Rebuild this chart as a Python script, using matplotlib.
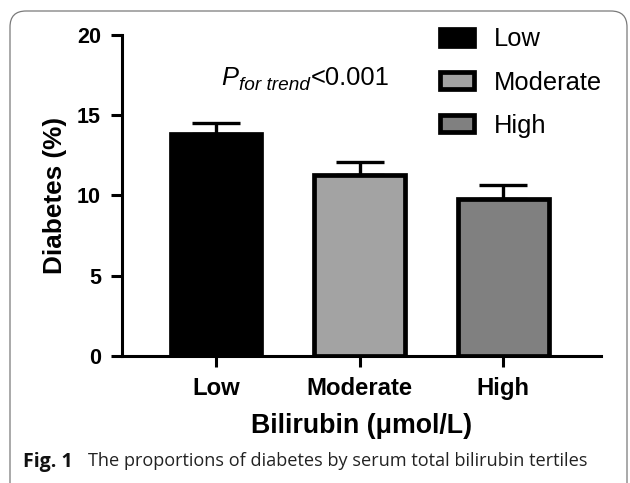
import matplotlib
matplotlib.use('Agg')
import matplotlib.pyplot as plt
from matplotlib.patches import FancyBboxPatch
from matplotlib.transforms import IdentityTransform

# ---- data ----
categories = ['Low', 'Moderate', 'High']
values = [13.8, 11.25, 9.8]
errors = [0.7, 0.85, 0.85]
colors = ['#000000', '#a3a3a3', '#808080']
yticks = [0, 5, 10, 15, 20]
ylabel = 'Diabetes (%)'
xlabel = 'Bilirubin (μmol/L)'
caption_bold = 'Fig. 1'
caption_text = 'The proportions of diabetes by serum total bilirubin tertiles'

plt.rcParams['font.family'] = ['Liberation Sans', 'DejaVu Sans']

W, H = 630, 483
fig = plt.figure(figsize=(6.3, 4.83), dpi=100)


def fx(px):
    return px / W


def fy(py):
    return 1 - py / H


# outer rounded frame
frame = FancyBboxPatch((10, -20), 617, 483 - 11 + 20,
                       boxstyle='round,pad=0,rounding_size=16',
                       transform=IdentityTransform(), fill=False,
                       edgecolor='#7a7a7a', linewidth=0.9)
fig.patches.append(frame)

ax = fig.add_axes([fx(121.7), fy(355.7), fx(601) - fx(121.7), fy(35) - fy(355.7)])
x = list(range(len(categories)))
bars = ax.bar(x, values, width=0.63, color=colors, edgecolor='black',
              linewidth=3.4, zorder=3)
ax.errorbar(x, values, yerr=[[0] * len(values), errors], fmt='none',
            ecolor='black', elinewidth=2.4, capsize=17.3, capthick=2.4, zorder=2)

ax.set_xlim(-0.655, 2.68)
ax.set_ylim(0, 20)
ax.set_yticks(yticks)
ax.set_xticks(x)
ax.set_xticklabels(categories)
for s in ['top', 'right']:
    ax.spines[s].set_visible(False)
for s in ['left', 'bottom']:
    ax.spines[s].set_linewidth(2.2)
ax.tick_params(axis='both', width=2.2, length=8)
ax.tick_params(axis='y', labelsize=15.5, pad=7)
ax.tick_params(axis='x', labelsize=17.2, pad=7.6)
for lab in ax.get_xticklabels() + ax.get_yticklabels():
    lab.set_fontweight('bold')

ax.set_ylabel(ylabel, fontsize=18.8, fontweight='bold')
ax.yaxis.set_label_coords(-0.114, 0.5)
ax.set_xlabel(xlabel, fontsize=19.3, fontweight='bold', va='top')
ax.xaxis.set_label_coords(0.5, -0.18)

# legend
fig.legend(handles=list(bars.patches), labels=categories, loc='upper left',
           bbox_to_anchor=(fx(440), fy(27.5)), bbox_transform=fig.transFigure,
           frameon=False, borderpad=0, borderaxespad=0, handlelength=1.33,
           handleheight=0.66, handletextpad=0.77, labelspacing=0.75,
           fontsize=18.4)

# P for trend annotation
ptxt = fig.text(fx(221.7), fy(85), 'P', fontsize=18.4, style='italic',
                ha='left', va='baseline')
sub = ax.annotate('for trend', xy=(1, 0), xycoords=ptxt, xytext=(0.5, 0),
                  textcoords='offset points', fontsize=13.7, style='italic',
                  ha='left', va='baseline')
ax.annotate('<0.001', xy=(1, 0), xycoords=(sub, ptxt), xytext=(0.5, 0),
            textcoords='offset points', fontsize=18.4, ha='left', va='bottom')

# caption
fig.text(fx(23), fy(466.5), caption_bold, fontsize=14, fontweight='bold',
         family=['Open Sans', 'DejaVu Sans'], ha='left', va='baseline',
         color='#111111')
fig.text(fx(88), fy(466.5), caption_text, fontsize=13.05,
         family=['Open Sans', 'DejaVu Sans'], ha='left', va='baseline',
         color='#222222')

fig.savefig('out.png', dpi=100)
